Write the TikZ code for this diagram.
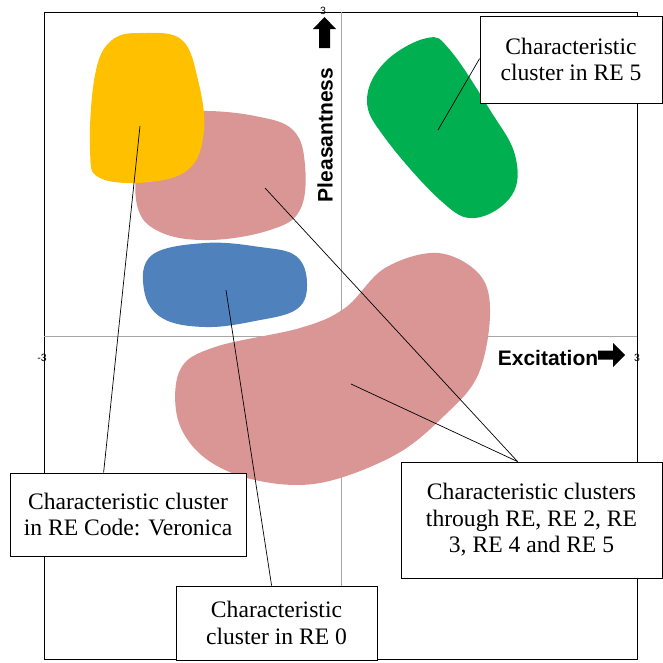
\documentclass[tikz,border=0pt]{standalone}
\usepackage{fontspec}
\setmainfont{Liberation Serif}
\setsansfont{Liberation Sans}
\definecolor{cyellow}{HTML}{FFC000}
\definecolor{cpink}{HTML}{D99694}
\definecolor{cblue}{HTML}{4F81BD}
\definecolor{cgreen}{HTML}{00B050}
\definecolor{caxis}{HTML}{A6A6A6}
\begin{document}
\begin{tikzpicture}[x=1pt,y=-1pt,
  lbox/.style={draw=black, fill=white, line width=0.8pt, align=center, inner sep=0pt,
    font=\fontsize{23.6}{26.5}\selectfont},
  leader/.style={draw=black, line width=0.7pt},
  blob/.style={draw=none},
  axislbl/.style={font=\sffamily\bfseries\fontsize{21}{24}\selectfont, inner sep=0pt},
  tick/.style={font=\sffamily\fontsize{10.5}{12}\selectfont, inner sep=0pt},
  blockarrow/.style={fill=black, draw=none}]
\useasboundingbox (0,0) rectangle (663,662);
% frame and axes
\draw[black, line width=0.8pt] (44,12) rectangle (637,659);
\draw[caxis, line width=0.8pt] (341,12) -- (341,659);
\draw[caxis, line width=0.8pt] (44,336) -- (637,336);
% blobs
\fill[cpink, blob] plot[smooth cycle, tension=0.65] coordinates {
  (200,111) (255,116) (293,130) (305,165) (300,210) (270,230) (210,240) (160,232) (137,205) (140,150) (160,118)};
\fill[cyellow, blob] plot[smooth cycle, tension=0.65] coordinates {
  (145,33) (182,40) (198,80) (204,130) (190,168) (150,182) (100,178) (90,150) (95,75) (112,40)};
\fill[cblue, blob] plot[smooth cycle, tension=0.65] coordinates {
  (205,243) (260,247) (296,256) (307,283) (297,309) (255,321) (205,327) (162,318) (144,290) (152,255)};
\fill[cgreen, blob] plot[smooth cycle, tension=0.65] coordinates {
  (427,38) (450,50) (490,110) (515,155) (512,195) (475,218) (440,200) (385,138) (367,100) (385,62)};
\fill[cpink, blob] plot[smooth cycle, tension=0.6] coordinates {
  (438,253) (480,275) (490,315) (478,375) (445,415) (395,455) (320,483) (255,480) (205,458) (178,420) (180,370) (215,347) (300,328) (345,308) (385,268)};
% axis labels and arrows
\node[axislbl, rotate=90] (pleas) at (325,135) {Pleasantness};
\node[axislbl, anchor=base] (excit) at (548,365) {Excitation};
\fill[blockarrow] (319,48) -- (319,29) -- (313,29) -- (324.5,17) -- (336,29) -- (330,29) -- (330,48) -- cycle;
\fill[blockarrow] (598,350.5) -- (613,350.5) -- (613,343) -- (625,355) -- (613,367) -- (613,359.5) -- (598,359.5) -- cycle;
\node[tick] (t3top) at (323,11) {3};
\node[tick] (t3right) at (637,358) {3};
\node[tick] (tm3) at (42,358) {-3};
% anchor points inside clusters
\coordinate (cy) at (140,126);
\coordinate (cb) at (226,290);
\coordinate (cpu) at (265,188);
\coordinate (cpb) at (351,384);
\coordinate (cg) at (438,130);
% boxes
\node[lbox, minimum width=236pt, minimum height=83pt] (bver) at (128,514.5) {Characteristic cluster\\in RE Code: Veronica};
\node[lbox, minimum width=201pt, minimum height=74pt] (bre0) at (276.5,623) {Characteristic\\cluster in RE 0};
\node[lbox, minimum width=261pt, minimum height=116pt] (ball) at (531.5,520) {Characteristic clusters\\through RE, RE 2, RE\\3, RE 4 and RE 5};
\node[lbox, minimum width=182pt, minimum height=87pt] (bre5) at (571,59.5) {Characteristic\\cluster in RE 5};
% connector ends on the boxes
\coordinate (ever) at ([xshift=94pt]bver.north west);
\coordinate (ere0) at ([xshift=96pt]bre0.north west);
\coordinate (eall) at ([xshift=117pt]ball.north west);
\coordinate (ere5) at ([yshift=-43pt]bre5.north west);
% leaders
\draw[leader] (cy) -- (ever);
\draw[leader] (cb) -- (ere0);
\draw[leader] (cpu) -- (eall);
\draw[leader] (cpb) -- (eall);
\draw[leader] (cg) -- (ere5);
\end{tikzpicture}
\end{document}
